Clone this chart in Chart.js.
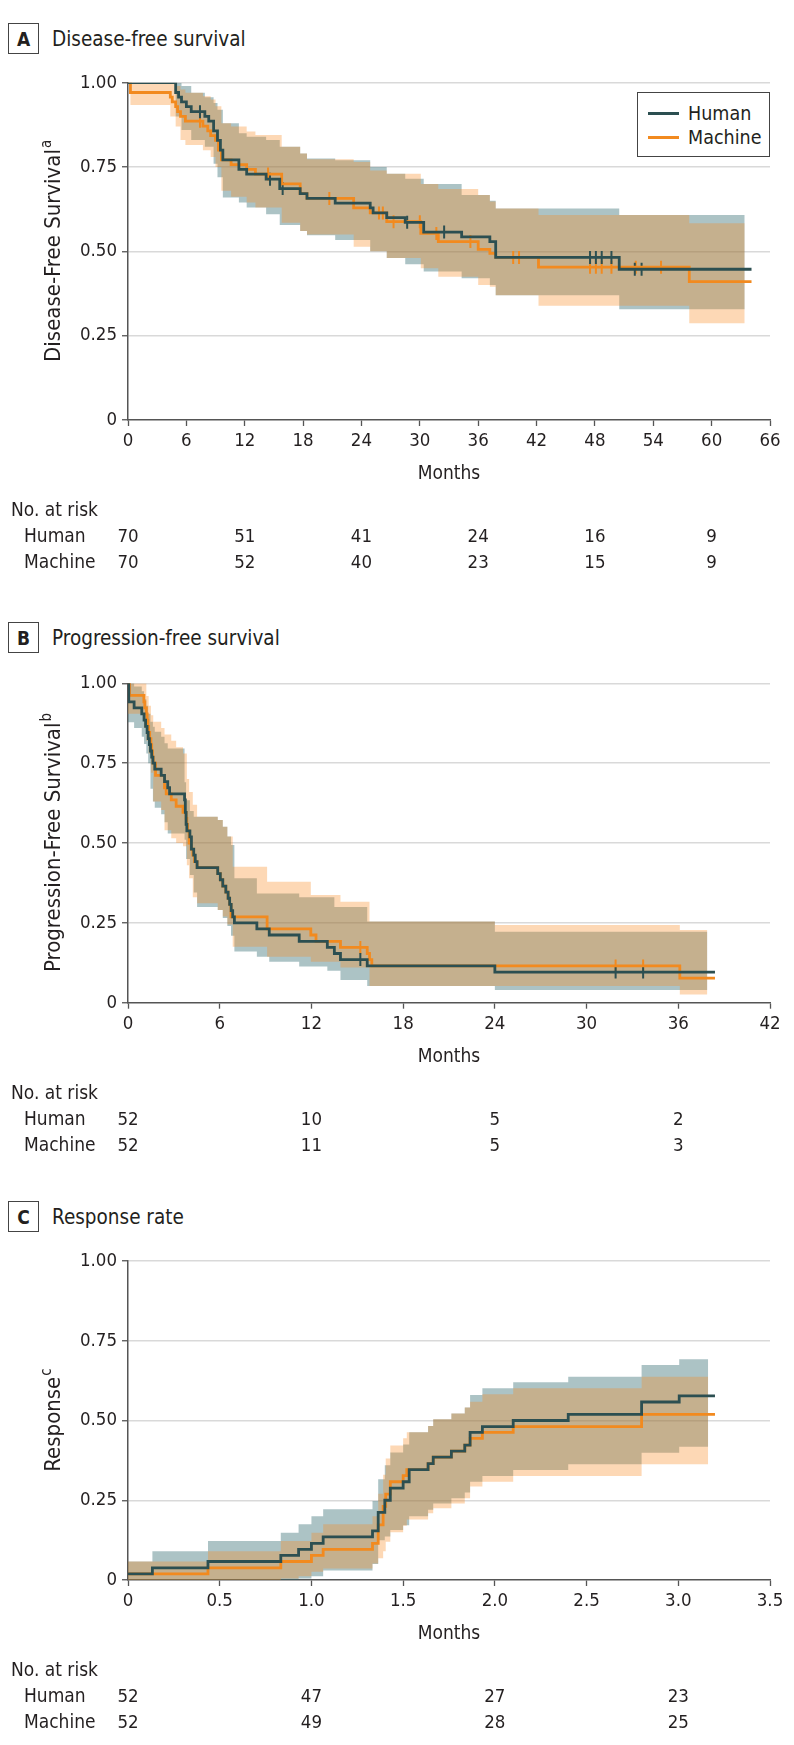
<!DOCTYPE html>
<html>
<head>
<meta charset="utf-8">
<script src="https://cdn.jsdelivr.net/npm/chart.js@4.4.0/dist/chart.umd.min.js"></script>
<style>
  body { margin: 0; background: #fff; width: 794px; height: 1745px; position: relative; overflow: hidden;
         font-family: 'DejaVu Sans Condensed', 'DejaVu Sans', sans-serif; color: #231f20; }
  canvas { position: absolute; left: 0; }
  .hdr { position: absolute; left: 8px; height: 31px; display: flex; align-items: center; }
  .hdr .box { width: 29px; height: 29px; border: 1.2px solid #444; display: flex; align-items: center;
              justify-content: center; font-weight: bold; font-size: 19px; }
  .hdr .ttl { margin-left: 13px; font-size: 20.5px; }
  #legend { position: absolute; left: 637px; top: 92px; width: 131px; height: 63px; border: 1.5px solid #444;
            background: #fff; font-size: 19.5px; }
  #legend .row { position: absolute; left: 0; height: 24px; display: flex; align-items: center; }
  #legend .sw { display: inline-block; width: 31px; height: 3px; margin-left: 10px; margin-right: 9px; }
</style>
</head>
<body>
<div class="hdr" style="top:23px"><div class="box">A</div><div class="ttl">Disease-free survival</div></div>
<div class="hdr" style="top:622px"><div class="box">B</div><div class="ttl">Progression-free survival</div></div>
<div class="hdr" style="top:1201px"><div class="box">C</div><div class="ttl">Response rate</div></div>

<canvas id="chartA" width="794" height="600" style="top:0px"></canvas>
<canvas id="chartB" width="794" height="580" style="top:600px"></canvas>
<canvas id="chartC" width="794" height="565" style="top:1180px"></canvas>

<div id="legend">
  <div class="row" style="top:8px"><span class="sw" style="background:#2c4f51"></span>Human</div>
  <div class="row" style="top:32px"><span class="sw" style="background:#f28a1f"></span>Machine</div>
</div>

<script>
// ---- A: disease-free survival (months, survival) ----
const dfsHumanT = [0, 4.9, 5.2, 5.5, 6.0, 6.5, 7.9, 8.3, 8.8, 9.2, 9.5, 9.75, 11.4, 12.2, 14.2, 15.6, 17.7, 18.4, 21.3, 24.9, 25.2, 26.6, 28.5, 30.4, 34.3, 37.2, 37.8, 50.5, 64.1];
const dfsHumanS = [1.0, 0.971, 0.957, 0.943, 0.929, 0.914, 0.9, 0.886, 0.857, 0.829, 0.8, 0.771, 0.743, 0.729, 0.714, 0.686, 0.671, 0.657, 0.643, 0.629, 0.614, 0.6, 0.586, 0.557, 0.543, 0.529, 0.482, 0.447, 0.447];
const dfsMachineT = [0, 0.25, 4.35, 4.55, 4.9, 5.1, 5.4, 5.9, 7.7, 8.2, 8.5, 9.0, 9.3, 9.6, 10.6, 12.2, 13.1, 15.8, 17.7, 18.4, 23.2, 24.9, 26.6, 30.1, 31.9, 36.0, 37.2, 37.8, 42.2, 57.7, 64.1];
const dfsMachineS = [1.0, 0.971, 0.957, 0.943, 0.929, 0.914, 0.9, 0.886, 0.871, 0.857, 0.843, 0.829, 0.8, 0.771, 0.757, 0.743, 0.729, 0.7, 0.671, 0.657, 0.629, 0.614, 0.588, 0.553, 0.529, 0.506, 0.494, 0.482, 0.453, 0.41, 0.41];
const dfsHumanCensor = [7.4, 14.6, 15.9, 28.7, 32.5, 47.5, 48.1, 48.7, 49.7, 52.1, 52.8];
const dfsMachineCensor = [7.4, 14.4, 20.7, 25.8, 26.2, 27.3, 30.0, 31.7, 35.2, 39.6, 40.2, 47.5, 48.1, 48.7, 49.7, 52.2, 54.8];
const dfsHumanBandT  = [0, 4.9, 5.5, 6.5, 7.9, 8.8, 9.2, 9.75, 11.4, 12.2, 14.2, 15.6, 17.7, 18.4, 21.3, 24.9, 26.6, 28.5, 30.4, 34.3, 37.2, 37.8, 50.5, 63.4];
const dfsHumanBandLo = [1.0, 0.9, 0.86, 0.83, 0.81, 0.76, 0.72, 0.66, 0.645, 0.63, 0.61, 0.578, 0.56, 0.548, 0.534, 0.5, 0.48, 0.462, 0.44, 0.42, 0.4, 0.37, 0.328, 0.328];
const dfsHumanBandHi = [1.0, 1.0, 0.99, 0.97, 0.957, 0.94, 0.92, 0.88, 0.85, 0.84, 0.83, 0.81, 0.79, 0.775, 0.77, 0.75, 0.73, 0.715, 0.7, 0.667, 0.65, 0.627, 0.608, 0.608];
const dfsMachineBandT  = [0, 0.25, 4.35, 4.9, 5.4, 5.9, 7.7, 8.5, 9.0, 9.6, 10.6, 12.2, 13.1, 15.8, 17.7, 18.4, 23.2, 24.9, 26.6, 30.1, 31.9, 36.0, 37.2, 37.8, 42.2, 57.7, 63.4];
const dfsMachineBandLo = [1.0, 0.934, 0.9, 0.87, 0.83, 0.815, 0.8, 0.78, 0.75, 0.68, 0.662, 0.645, 0.63, 0.585, 0.56, 0.55, 0.514, 0.5, 0.48, 0.45, 0.425, 0.4, 0.395, 0.37, 0.339, 0.287, 0.287];
const dfsMachineBandHi = [1.0, 1.0, 1.0, 0.99, 0.98, 0.97, 0.96, 0.95, 0.93, 0.88, 0.87, 0.855, 0.845, 0.81, 0.79, 0.773, 0.765, 0.74, 0.73, 0.7, 0.685, 0.667, 0.648, 0.627, 0.608, 0.583, 0.583];
const dfsRiskT = [0, 12, 24, 36, 48, 60];
const dfsRiskHuman = [70, 51, 41, 24, 16, 9];
const dfsRiskMachine = [70, 52, 40, 23, 15, 9];

// ---- B: progression-free survival ----
const pfsHumanT = [0, 0.05, 0.4, 0.9, 1.05, 1.15, 1.25, 1.32, 1.4, 1.47, 1.55, 1.63, 1.75, 2.17, 2.39, 2.6, 2.72, 3.7, 3.75, 3.8, 3.85, 4.05, 4.15, 4.3, 4.4, 4.52, 5.87, 6.04, 6.2, 6.4, 6.55, 6.65, 6.75, 6.85, 6.96, 8.43, 9.24, 11.2, 13.04, 13.5, 13.9, 15.65, 24.0, 38.4];
const pfsHumanS = [1.0, 0.942, 0.923, 0.904, 0.885, 0.865, 0.846, 0.827, 0.808, 0.788, 0.769, 0.75, 0.731, 0.712, 0.692, 0.673, 0.654, 0.635, 0.596, 0.558, 0.538, 0.519, 0.481, 0.462, 0.442, 0.423, 0.404, 0.385, 0.365, 0.346, 0.327, 0.308, 0.288, 0.269, 0.25, 0.231, 0.212, 0.192, 0.173, 0.154, 0.135, 0.115, 0.096, 0.096];
const pfsMachineT = [0, 0.1, 1.04, 1.1, 1.2, 1.25, 1.3, 1.35, 1.42, 1.5, 1.55, 1.6, 1.65, 1.8, 2.39, 2.5, 2.83, 3.15, 3.6, 3.8, 3.85, 3.9, 4.0, 4.13, 4.24, 4.35, 4.52, 5.87, 6.04, 6.2, 6.4, 6.55, 6.65, 6.74, 9.1, 11.96, 12.3, 13.9, 15.65, 15.8, 15.95, 36.1, 38.4];
const pfsMachineS = [1.0, 0.962, 0.942, 0.923, 0.904, 0.885, 0.865, 0.846, 0.827, 0.808, 0.788, 0.769, 0.75, 0.712, 0.673, 0.654, 0.635, 0.615, 0.596, 0.577, 0.558, 0.538, 0.5, 0.481, 0.462, 0.442, 0.423, 0.404, 0.385, 0.365, 0.346, 0.327, 0.308, 0.269, 0.231, 0.212, 0.192, 0.173, 0.154, 0.135, 0.115, 0.077, 0.077];
const pfsHumanCensor = [15.2, 31.9, 33.7];
const pfsMachineCensor = [15.2, 31.9, 33.7];
const pfsHumanBandT  = [0, 0.4, 0.9, 1.05, 1.2, 1.32, 1.47, 1.63, 1.75, 2.17, 2.39, 2.6, 3.7, 3.8, 4.05, 4.3, 4.52, 5.87, 6.2, 6.5, 6.74, 6.96, 8.43, 9.24, 11.2, 13.04, 13.5, 13.9, 15.65, 24.0, 37.9];
const pfsHumanBandLo = [0.878, 0.86, 0.833, 0.81, 0.78, 0.75, 0.67, 0.63, 0.61, 0.59, 0.565, 0.53, 0.51, 0.45, 0.4, 0.345, 0.3, 0.29, 0.265, 0.24, 0.21, 0.16, 0.144, 0.128, 0.113, 0.1, 0.1, 0.071, 0.052, 0.04, 0.04];
const pfsHumanBandHi = [1.0, 0.99, 0.975, 0.95, 0.93, 0.905, 0.88, 0.864, 0.848, 0.833, 0.812, 0.796, 0.69, 0.634, 0.6, 0.582, 0.582, 0.572, 0.551, 0.52, 0.494, 0.39, 0.342, 0.342, 0.33, 0.33, 0.3, 0.3, 0.254, 0.222, 0.222];
const pfsMachineBandT  = [0, 1.04, 1.2, 1.35, 1.5, 1.65, 2.17, 2.39, 2.83, 3.15, 3.6, 3.85, 4.0, 4.24, 4.52, 5.87, 6.2, 6.5, 6.85, 9.1, 11.96, 13.9, 15.8, 24.0, 36.1, 37.9];
const pfsMachineBandLo = [0.905, 0.86, 0.82, 0.78, 0.72, 0.63, 0.603, 0.54, 0.515, 0.5, 0.49, 0.43, 0.39, 0.33, 0.311, 0.29, 0.27, 0.245, 0.175, 0.144, 0.128, 0.11, 0.052, 0.052, 0.026, 0.026];
const pfsMachineBandHi = [1.0, 1.0, 0.96, 0.93, 0.9, 0.88, 0.86, 0.84, 0.82, 0.8, 0.78, 0.7, 0.66, 0.62, 0.582, 0.572, 0.551, 0.52, 0.426, 0.379, 0.337, 0.316, 0.254, 0.243, 0.228, 0.228];
const pfsRiskT = [0, 12, 24, 36];
const pfsRiskHuman = [52, 10, 5, 2];
const pfsRiskMachine = [52, 11, 5, 3];

// ---- C: response rate (cumulative) ----
const respHumanT = [0, 0.133, 0.436, 0.833, 0.93, 1.0, 1.064, 1.333, 1.364, 1.4, 1.43, 1.5, 1.533, 1.636, 1.664, 1.763, 1.836, 1.865, 1.932, 2.1, 2.4, 2.8, 3.005, 3.2];
const respHumanS = [0.019, 0.038, 0.058, 0.077, 0.096, 0.115, 0.135, 0.154, 0.212, 0.25, 0.288, 0.308, 0.346, 0.365, 0.385, 0.404, 0.423, 0.463, 0.481, 0.5, 0.519, 0.558, 0.577, 0.577];
const respMachineT = [0, 0.436, 0.833, 1.0, 1.064, 1.333, 1.364, 1.391, 1.405, 1.43, 1.5, 1.52, 1.636, 1.664, 1.763, 1.836, 1.865, 1.932, 2.1, 2.8, 3.2];
const respMachineS = [0.019, 0.038, 0.058, 0.077, 0.096, 0.115, 0.173, 0.231, 0.269, 0.308, 0.327, 0.346, 0.365, 0.385, 0.404, 0.423, 0.444, 0.463, 0.481, 0.519, 0.519];
const respHumanBandT  = [0, 0.133, 0.436, 0.833, 0.93, 1.0, 1.064, 1.333, 1.364, 1.4, 1.43, 1.5, 1.533, 1.636, 1.664, 1.763, 1.836, 1.865, 1.932, 2.1, 2.4, 2.8, 3.005, 3.163];
const respHumanBandLo = [0, 0, 0, 0, 0.005, 0.012, 0.03, 0.05, 0.125, 0.136, 0.157, 0.172, 0.2, 0.22, 0.24, 0.256, 0.274, 0.308, 0.326, 0.345, 0.363, 0.399, 0.418, 0.418];
const respHumanBandHi = [0.058, 0.09, 0.122, 0.148, 0.175, 0.2, 0.222, 0.248, 0.316, 0.36, 0.4, 0.425, 0.463, 0.483, 0.504, 0.522, 0.541, 0.58, 0.601, 0.62, 0.637, 0.674, 0.692, 0.692];
const respMachineBandT  = [0, 0.436, 0.833, 0.93, 1.0, 1.064, 1.333, 1.364, 1.391, 1.405, 1.43, 1.5, 1.52, 1.636, 1.664, 1.763, 1.836, 1.865, 1.932, 2.1, 2.8, 3.163];
const respMachineBandLo = [0, 0, 0.005, 0.012, 0.026, 0.036, 0.052, 0.068, 0.09, 0.12, 0.15, 0.17, 0.19, 0.209, 0.225, 0.24, 0.256, 0.293, 0.308, 0.326, 0.363, 0.363];
const respMachineBandHi = [0.058, 0.09, 0.122, 0.122, 0.148, 0.175, 0.2, 0.27, 0.33, 0.381, 0.422, 0.444, 0.463, 0.483, 0.504, 0.522, 0.541, 0.559, 0.582, 0.601, 0.637, 0.637];
const respRiskT = [0, 1.0, 2.0, 3.0];
const respRiskHuman = [52, 47, 27, 23];
const respRiskMachine = [52, 49, 28, 25];

const HUMAN = '#2c4f51';
const MACHINE = '#f28a1f';
const HUMAN_BAND = 'rgba(47, 105, 110, 0.4)';
const MACHINE_BAND = 'rgba(249, 137, 31, 0.33)';
const FONT = "'DejaVu Sans Condensed', 'DejaVu Sans', sans-serif";
const TEXT = '#231f20';

function steps(T, S) {
    return T.map((t, i) => ({ x: t, y: S[i] }));
}

function valueAt(T, S, t) {
    let v = S[0];
    for (let i = 0; i < T.length; i++) {
        if (T[i] <= t) v = S[i];
    }
    return v;
}

function censorPoints(T, S, C) {
    return C.map(t => ({ x: t, y: valueAt(T, S, t) }));
}

function curve(data, color) {
    return { data, borderColor: color, borderWidth: 2.8, stepped: 'before', pointRadius: 0, fill: false };
}

function ticks(data, color) {
    return { data, showLine: false, pointStyle: 'line', pointRotation: 90, pointRadius: 6.5,
             pointBorderColor: color, pointBorderWidth: 2, borderColor: color, fill: false };
}

function band(data, color, fillNext) {
    return { data, stepped: 'before', pointRadius: 0, borderWidth: 0, borderColor: 'rgba(0,0,0,0)',
             backgroundColor: color, fill: fillNext ? '+1' : false };
}

// text below the axis and the y title, placed from the chart's own scale
const panelText = {
    id: 'panelText',
    afterDraw(chart, args, opts) {
        const { ctx, chartArea: a, scales: { x } } = chart;
        ctx.save();
        ctx.fillStyle = TEXT;
        ctx.font = '19px ' + FONT;
        ctx.textBaseline = 'middle';
        ctx.textAlign = 'center';
        ctx.fillText('Months', (a.left + a.right) / 2, a.bottom + 54);

        ctx.textAlign = 'left';
        ctx.fillText('No. at risk', 11, a.bottom + 91);
        ctx.fillText('Human', 24, a.bottom + 117);
        ctx.fillText('Machine', 24, a.bottom + 143);
        ctx.textAlign = 'center';
        ctx.font = '18.5px ' + FONT;
        opts.riskT.forEach((t, i) => {
            const px = x.getPixelForValue(t);
            ctx.fillText(String(opts.riskHuman[i]), px, a.bottom + 117);
            ctx.fillText(String(opts.riskMachine[i]), px, a.bottom + 143);
        });

        // rotated y title with superscript
        ctx.translate(54, (a.top + a.bottom) / 2);
        ctx.rotate(-Math.PI / 2);
        ctx.font = '22px ' + FONT;
        const w1 = ctx.measureText(opts.yTitle).width;
        ctx.font = '15px ' + FONT;
        const w2 = ctx.measureText(opts.ySup).width;
        ctx.textAlign = 'left';
        ctx.font = '22px ' + FONT;
        ctx.fillText(opts.yTitle, -(w1 + w2) / 2, 0);
        ctx.font = '15px ' + FONT;
        ctx.fillText(opts.ySup, -(w1 + w2) / 2 + w1 + 1, -7);
        ctx.restore();
    }
};

function makePanel(id, p) {
    const canvasH = document.getElementById(id).height;
    new Chart(document.getElementById(id), {
        type: 'line',
        data: {
            datasets: [
                curve(steps(p.hT, p.hS), HUMAN),
                curve(steps(p.mT, p.mS), MACHINE),
                ticks(censorPoints(p.hT, p.hS, p.hC), HUMAN),
                ticks(censorPoints(p.mT, p.mS, p.mC), MACHINE),
                band(steps(p.mbT, p.mbHi), MACHINE_BAND, true),
                band(steps(p.mbT, p.mbLo), MACHINE_BAND, false),
                band(steps(p.hbT, p.hbHi), HUMAN_BAND, true),
                band(steps(p.hbT, p.hbLo), HUMAN_BAND, false)
            ]
        },
        options: {
            responsive: false,
            devicePixelRatio: 1,
            animation: false,
            events: [],
            layout: { padding: { top: p.top, right: 24, left: 0, bottom: 0 } },
            plugins: {
                legend: { display: false },
                tooltip: { enabled: false },
                panelText: { riskT: p.riskT, riskHuman: p.riskH, riskMachine: p.riskM, yTitle: p.yTitle, ySup: p.ySup }
            },
            scales: {
                x: {
                    type: 'linear',
                    min: 0,
                    max: p.xMax,
                    afterFit: s => { s.height = canvasH - p.bottom; },
                    ticks: {
                        stepSize: p.xStep,
                        autoSkip: false,
                        maxRotation: 0,
                        padding: 4,
                        color: TEXT,
                        font: { family: FONT, size: 18.5 },
                        callback: v => (v === 0 ? '0' : (p.xStep < 1 ? v.toFixed(1) : String(v)))
                    },
                    grid: { drawOnChartArea: false, drawTicks: true, tickLength: 6, tickColor: '#555', tickWidth: 1.3 },
                    border: { color: '#555', width: 1.5 }
                },
                y: {
                    min: 0,
                    max: 1,
                    afterFit: s => { s.width = 128; },
                    ticks: {
                        stepSize: 0.25,
                        padding: 5,
                        color: TEXT,
                        font: { family: FONT, size: 18.5 },
                        callback: v => (v === 0 ? '0' : v.toFixed(2))
                    },
                    grid: {
                        color: c => (c.tick && c.tick.value === 0 ? 'rgba(0,0,0,0)' : '#d9d9d9'),
                        lineWidth: 1.5,
                        tickLength: 6,
                        tickColor: '#555',
                        tickWidth: 1.3
                    },
                    border: { color: '#555', width: 1.5 }
                }
            }
        },
        plugins: [panelText]
    });
}

makePanel('chartA', {
    hT: dfsHumanT, hS: dfsHumanS, mT: dfsMachineT, mS: dfsMachineS,
    hC: dfsHumanCensor, mC: dfsMachineCensor,
    hbT: dfsHumanBandT, hbLo: dfsHumanBandLo, hbHi: dfsHumanBandHi,
    mbT: dfsMachineBandT, mbLo: dfsMachineBandLo, mbHi: dfsMachineBandHi,
    riskT: dfsRiskT, riskH: dfsRiskHuman, riskM: dfsRiskMachine,
    xMax: 66, xStep: 6, top: 82.7, bottom: 420,
    yTitle: 'Disease-Free Survival', ySup: 'a'
});

makePanel('chartB', {
    hT: pfsHumanT, hS: pfsHumanS, mT: pfsMachineT, mS: pfsMachineS,
    hC: pfsHumanCensor, mC: pfsMachineCensor,
    hbT: pfsHumanBandT, hbLo: pfsHumanBandLo, hbHi: pfsHumanBandHi,
    mbT: pfsMachineBandT, mbLo: pfsMachineBandLo, mbHi: pfsMachineBandHi,
    riskT: pfsRiskT, riskH: pfsRiskHuman, riskM: pfsRiskMachine,
    xMax: 42, xStep: 6, top: 83.3, bottom: 402.7,
    yTitle: 'Progression-Free Survival', ySup: 'b'
});

makePanel('chartC', {
    hT: respHumanT, hS: respHumanS, mT: respMachineT, mS: respMachineS,
    hC: [], mC: [],
    hbT: respHumanBandT, hbLo: respHumanBandLo, hbHi: respHumanBandHi,
    mbT: respMachineBandT, mbLo: respMachineBandLo, mbHi: respMachineBandHi,
    riskT: respRiskT, riskH: respRiskHuman, riskM: respRiskMachine,
    xMax: 3.5, xStep: 0.5, top: 81, bottom: 400,
    yTitle: 'Response', ySup: 'c'
});
</script>
</body>
</html>
